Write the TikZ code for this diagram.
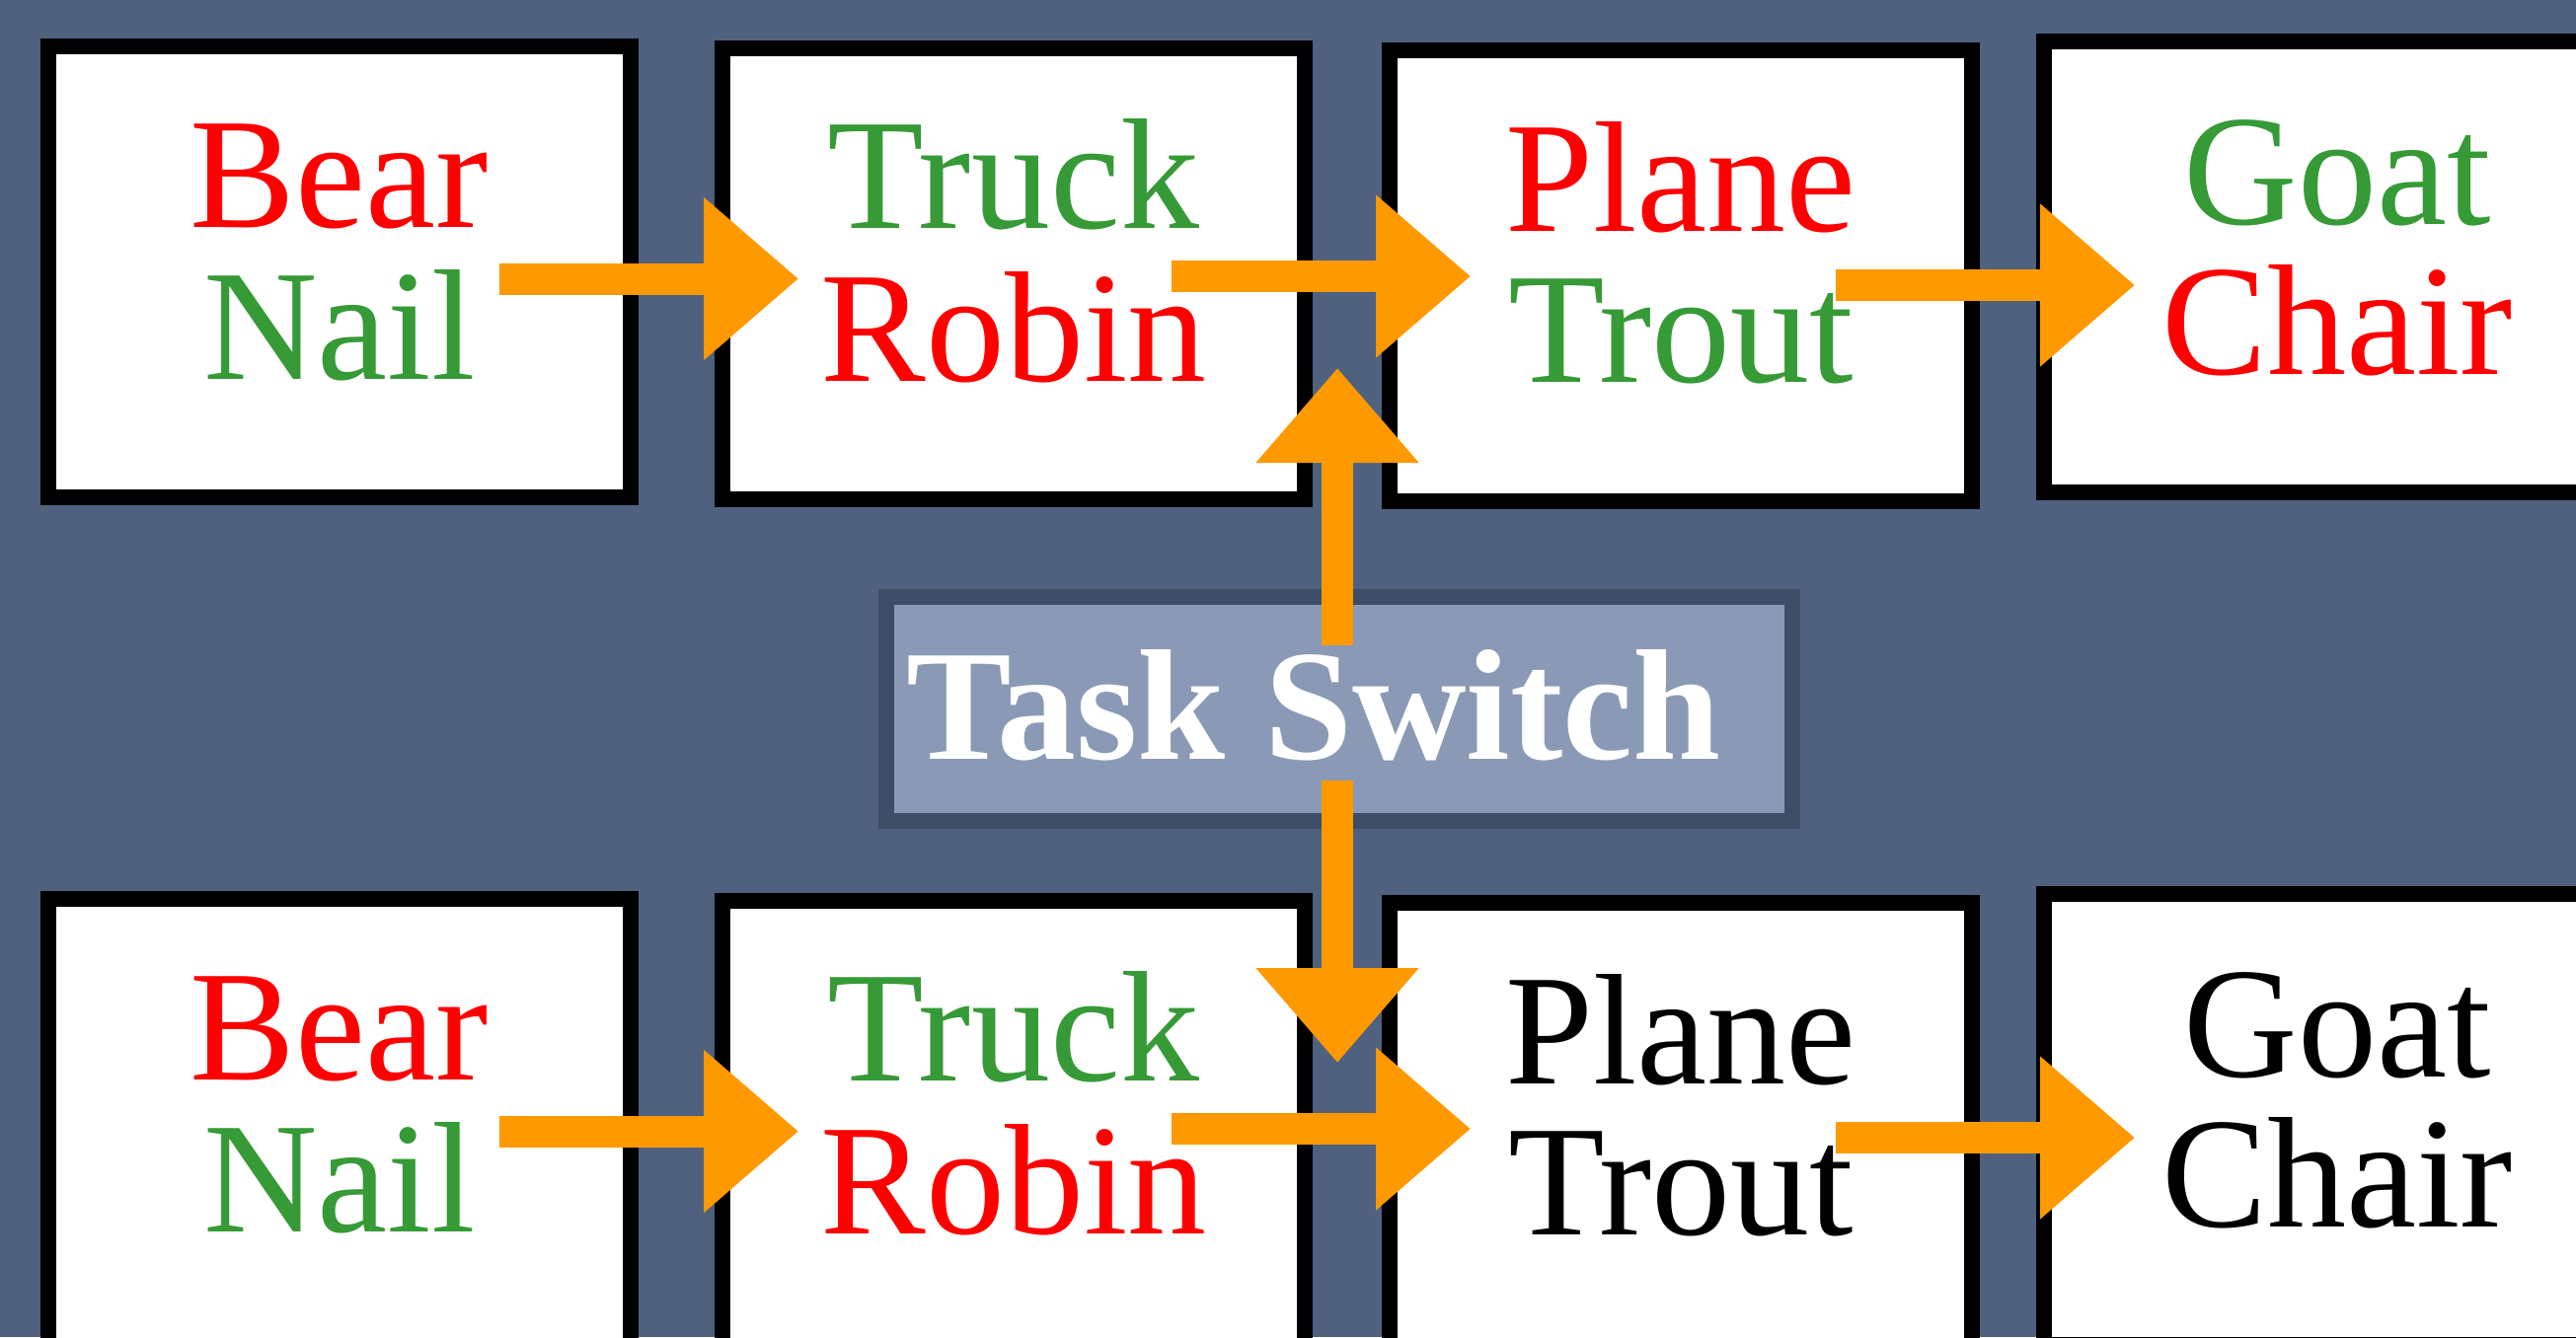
\documentclass[tikz,border=0pt]{standalone}
\usepackage{fontspec}
\setmainfont{Liberation Serif}
\usetikzlibrary{arrows.meta}

\definecolor{bgblue}{RGB}{80,97,128}
\definecolor{tsfill}{RGB}{138,154,182}
\definecolor{tsedge}{RGB}{62,77,102}
\definecolor{wred}{RGB}{255,0,0}
\definecolor{wgreen}{RGB}{54,154,54}
\definecolor{flow}{RGB}{255,153,0}

\begin{document}
\begin{tikzpicture}[x=1pt,y=-1pt,
  card/.style={draw=black, fill=white, line width=16pt, minimum width=590pt,
    minimum height=457pt, inner sep=0pt, outer sep=0pt},
  word/.style={font=\fontsize{160}{154}\selectfont, anchor=base, inner sep=0pt},
  flowarrow/.style={draw=flow, line width=32pt, line cap=butt,
    -{Triangle[length=96pt,width=159pt]}},
  switchbox/.style={draw=tsedge, fill=tsfill, line width=16pt, minimum width=918pt,
    minimum height=227pt, inner sep=0pt, outer sep=0pt},
]
\useasboundingbox (0,0) rectangle (2610,1355);
\clip (0,0) rectangle (2610,1355);
\fill[bgblue] (0,0) rectangle (2610,1355);

% upper row of cards
\node[card] (t1) at (344,275.5) {};
\node[card] (t2) at (1027,277.5) {};
\node[card] (t3) at (1703,279) {};
\node[card] (t4) at (2366,270.5) {};
% lower row of cards
\node[card] (u1) at (344,1139.5) {};
\node[card] (u2) at (1027,1141.5) {};
\node[card] (u3) at (1703,1143) {};
\node[card] (u4) at (2366,1134.5) {};

% words, upper row
\node[word, text=wred]   (t1a) at (344,230) {Bear};
\node[word, text=wgreen] (t1b) at (344,384) {Nail};
\node[word, text=wgreen] (t2a) at (1027,231) {Truck};
\node[word, text=wred]   (t2b) at (1027,386) {Robin};
\node[word, text=wred]   (t3a) at (1703,234) {Plane};
\node[word, text=wgreen] (t3b) at (1703,387.5) {Trout};
\node[word, text=wgreen] (t4a) at (2368,227) {Goat};
\node[word, text=wred]   (t4b) at (2368,379) {Chair};
% words, lower row
\node[word, text=wred]   (u1a) at (344,1094) {Bear};
\node[word, text=wgreen] (u1b) at (344,1248) {Nail};
\node[word, text=wgreen] (u2a) at (1027,1095) {Truck};
\node[word, text=wred]   (u2b) at (1027,1250) {Robin};
\node[word, text=black]  (u3a) at (1703,1098) {Plane};
\node[word, text=black]  (u3b) at (1703,1251.5) {Trout};
\node[word, text=black]  (u4a) at (2368,1091) {Goat};
\node[word, text=black]  (u4b) at (2368,1243) {Chair};

% switch label
\node[switchbox] (sw) at (1357,718.5) {};
\node[anchor=base, inner sep=0pt, text=white,
  font=\fontsize{160}{160}\selectfont\bfseries] (swt) at (1331,769) {Task Switch};

% arrow end points
\coordinate (a1s) at (506,282.5);  \coordinate (a1e) at (809,282.5);
\coordinate (a2s) at (1187,280);   \coordinate (a2e) at (1490,280);
\coordinate (a3s) at (1860,289);   \coordinate (a3e) at (2163,289);
\coordinate (b1s) at (506,1146.5); \coordinate (b1e) at (809,1146.5);
\coordinate (b2s) at (1187,1144);  \coordinate (b2e) at (1490,1144);
\coordinate (b3s) at (1860,1153);  \coordinate (b3e) at (2163,1153);
\coordinate (vus) at (1355,654);   \coordinate (vue) at (1355,373);
\coordinate (vds) at (1355,791);   \coordinate (vde) at (1355,1077);

\draw[flowarrow] (a1s) -- (a1e);
\draw[flowarrow] (a2s) -- (a2e);
\draw[flowarrow] (a3s) -- (a3e);
\draw[flowarrow] (b1s) -- (b1e);
\draw[flowarrow] (b2s) -- (b2e);
\draw[flowarrow] (b3s) -- (b3e);
\draw[flowarrow] (vus) -- (vue);
\draw[flowarrow] (vds) -- (vde);
\end{tikzpicture}
\end{document}
